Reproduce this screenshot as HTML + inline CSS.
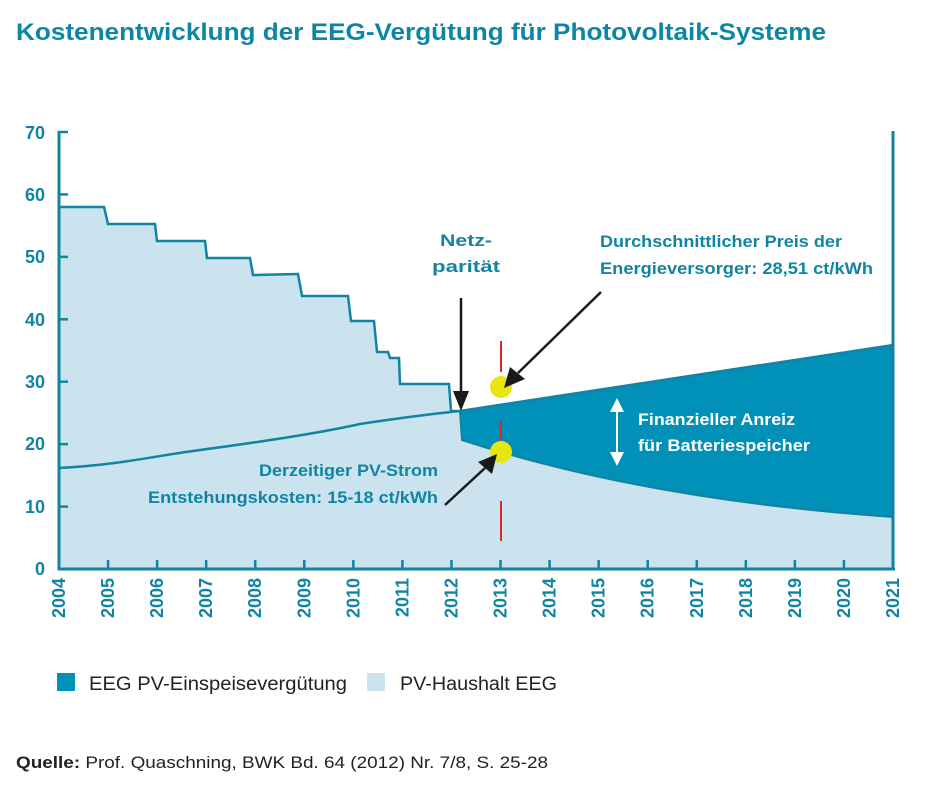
<!DOCTYPE html><html><head><meta charset="utf-8"><style>body{margin:0;background:#fff;width:933px;height:785px;overflow:hidden;font-family:"Liberation Sans",sans-serif}</style></head><body>
<svg width="933" height="785" xmlns="http://www.w3.org/2000/svg" font-family="Liberation Sans, sans-serif">
<text x="16" y="40" font-size="24" font-weight="bold" fill="#0b87a5" textLength="810" lengthAdjust="spacingAndGlyphs">Kostenentwicklung der EEG-Vergütung für Photovoltaik-Systeme</text>
<path d="M60,207 L104,207 108,224 155,224 157,241 205,241 207,258 250,258 253,275 298,274 302,296 348,296 351,321 374,321 377,352 388,352 390,358 399,358 400,384 449,384 451,411 460,411 L462,440 C600,485 750,507 893,517 L893,569 L60,569 Z" fill="#cae3ef"/>
<path d="M460,411 L893,345 L893,517 C750,507 600,485 462,440 Z" fill="#0090b8"/>
<path d="M60,207 L104,207 108,224 155,224 157,241 205,241 207,258 250,258 253,275 298,274 302,296 348,296 351,321 374,321 377,352 388,352 390,358 399,358 400,384 449,384 451,411 460,411" fill="none" stroke="#1184a3" stroke-width="2.5"/>
<path d="M58,468 C120,465 160,455 200,450 C260,442 320,433 360,424 C400,418 430,414 460,411 L893,345" fill="none" stroke="#1184a3" stroke-width="2.5"/>
<path d="M460,411 L462,440 C600,485 750,507 893,517" fill="none" stroke="#1184a3" stroke-width="2"/>
<g stroke="#1184a3" stroke-width="3">
<line x1="59" y1="131" x2="59" y2="570"/><line x1="58" y1="569" x2="895" y2="569"/><line x1="893" y1="131" x2="893" y2="570"/>
</g>
<g stroke="#1184a3" stroke-width="2.5">
<line x1="58" y1="132" x2="68" y2="132"/><line x1="58" y1="194.4" x2="68" y2="194.4"/><line x1="58" y1="256.9" x2="68" y2="256.9"/><line x1="58" y1="319.3" x2="68" y2="319.3"/><line x1="58" y1="381.7" x2="68" y2="381.7"/><line x1="58" y1="444.1" x2="68" y2="444.1"/><line x1="58" y1="506.6" x2="68" y2="506.6"/>
</g>
<g stroke="#1184a3" stroke-width="2.5" id="xt"></g>
<g font-size="18" font-weight="bold" fill="#1184a3" text-anchor="end">
<text x="45" y="139">70</text><text x="45" y="201">60</text><text x="45" y="263">50</text><text x="45" y="326">40</text><text x="45" y="388">30</text><text x="45" y="450">20</text><text x="45" y="513">10</text><text x="45" y="575">0</text>
</g>
<g id="yl" font-size="18" font-weight="bold" fill="#1184a3" text-anchor="end"></g>
<g stroke="#e0242c" stroke-width="2"><line x1="501" y1="341" x2="501" y2="372"/><line x1="501" y1="421" x2="501" y2="443"/><line x1="501" y1="501" x2="501" y2="541"/></g>
<circle cx="501" cy="387" r="11" fill="#e8e60f"/><circle cx="501" cy="452" r="11" fill="#e8e60f"/>
<g stroke="#1a1a1a" stroke-width="2.5"><line x1="461" y1="298" x2="461" y2="395"/><line x1="601" y1="292" x2="518" y2="373"/><line x1="445" y1="505" x2="485" y2="468"/></g>
<g fill="#1a1a1a"><polygon points="453,391 469,391 461,411"/><polygon points="510,367 525,379 504,388"/><polygon points="478,462 492,474 497,454"/></g>
<g stroke="#fff" stroke-width="2"><line x1="617" y1="408" x2="617" y2="455"/></g>
<g fill="#fff"><polygon points="610,412 624,412 617,398"/><polygon points="610,452 624,452 617,466"/></g>
<g font-size="17" font-weight="bold" fill="#1184a3">
<text x="440" y="246" textLength="52" lengthAdjust="spacingAndGlyphs">Netz-</text><text x="432" y="272" textLength="68" lengthAdjust="spacingAndGlyphs">parität</text>
<text x="600" y="247" textLength="242" lengthAdjust="spacingAndGlyphs">Durchschnittlicher Preis der</text><text x="600" y="274" textLength="273" lengthAdjust="spacingAndGlyphs">Energieversorger: 28,51 ct/kWh</text>
<text x="259" y="476" textLength="179" lengthAdjust="spacingAndGlyphs">Derzeitiger PV-Strom</text><text x="148" y="503" textLength="290" lengthAdjust="spacingAndGlyphs">Entstehungskosten: 15-18 ct/kWh</text>
</g>
<g font-size="17" font-weight="bold" fill="#fff"><text x="638" y="425" textLength="157" lengthAdjust="spacingAndGlyphs">Finanzieller Anreiz</text><text x="638" y="451" textLength="172" lengthAdjust="spacingAndGlyphs">für Batteriespeicher</text></g>
<rect x="57" y="673" width="18" height="18" fill="#0090b8"/><text x="89" y="690" font-size="19" fill="#222" textLength="258" lengthAdjust="spacingAndGlyphs">EEG PV-Einspeisevergütung</text>
<rect x="367" y="673" width="18" height="18" fill="#cae3ef"/><text x="400" y="690" font-size="19" fill="#222" textLength="157" lengthAdjust="spacingAndGlyphs">PV-Haushalt EEG</text>
<text x="16" y="768" font-size="17" fill="#222" textLength="532" lengthAdjust="spacingAndGlyphs"><tspan font-weight="bold">Quelle:</tspan> Prof. Quaschning, BWK Bd. 64 (2012) Nr. 7/8, S. 25-28</text>
</svg>
<script>
var ns="http://www.w3.org/2000/svg",xt=document.getElementById("xt"),yl=document.getElementById("yl");
for(var i=0;i<=17;i++){var x=59+i*(834/17);
var l=document.createElementNS(ns,"line");l.setAttribute("x1",x);l.setAttribute("x2",x);l.setAttribute("y1",560);l.setAttribute("y2",569);xt.appendChild(l);
var t=document.createElementNS(ns,"text");t.setAttribute("transform","translate("+(x+6)+",578) rotate(-90)");t.textContent=2004+i;yl.appendChild(t);}
</script>
</body></html>
